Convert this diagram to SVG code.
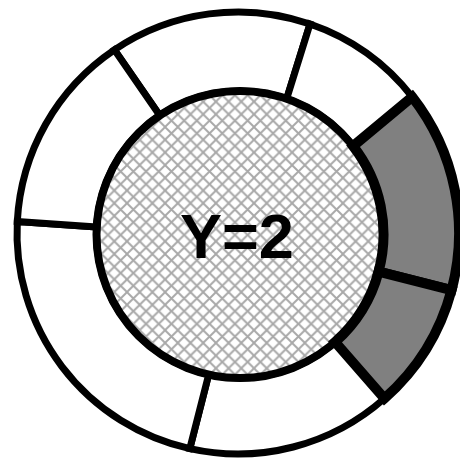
<svg xmlns="http://www.w3.org/2000/svg" width="460" height="461" viewBox="0 0 460 461">
  <defs>
    <pattern id="hatch" patternUnits="userSpaceOnUse" width="12.7" height="12.7">
      <rect width="12.7" height="12.7" fill="#ffffff"/>
      <path d="M-1,-1 L13.7,13.7 M-1,13.7 L13.7,-1" stroke="#a8a8a8" stroke-width="1.9" fill="none"/>
    </pattern>
  </defs>
  <style>
    .seg { fill: #ffffff; stroke: #000000; stroke-width: 7; stroke-linejoin: miter; }
    .seg.on { fill: #808080; stroke-width: 10; }
    .core { fill: url(#hatch); stroke: #000000; stroke-width: 8; }
    .label { font-family: "Liberation Sans", Arial, sans-serif; font-weight: bold; font-size: 63px; fill: #000000; text-anchor: middle; }
  </style>
  <rect width="460" height="461" fill="#ffffff"/>
  <g id="ring">
    <g id="seg-1"><path class="seg" d="M114.4,49.8 A221 221 0 0 1 310.0,24.0 L286.7,98.8 A143.5 143.5 0 0 0 159.8,115.5 Z"/></g>
    <g id="seg-2"><path class="seg" d="M310.0,24.0 A221 221 0 0 1 412.2,96.9 L353.1,146.1 A143.5 143.5 0 0 0 286.7,98.8 Z"/></g>
    <g id="seg-5"><path class="seg" d="M384.4,398.5 A221 221 0 0 1 189.8,448.7 L208.7,374.5 A143.5 143.5 0 0 0 335.1,342.0 Z"/></g>
    <g id="seg-6"><path class="seg" d="M189.8,448.7 A221 221 0 0 1 17.3,221.4 L96.7,227.0 A143.5 143.5 0 0 0 208.7,374.5 Z"/></g>
    <g id="seg-7"><path class="seg" d="M17.3,221.4 A221 221 0 0 1 114.4,49.8 L159.8,115.5 A143.5 143.5 0 0 0 96.7,227.0 Z"/></g>
  </g>
  <g id="center">
    <circle class="core" cx="240" cy="234.5" r="143.5"/>
  </g>
  <g id="highlight">
    <g id="seg-3"><path class="seg on" d="M412.2,96.9 A221 221 0 0 1 451.5,290.2 L378.6,271.6 A143.5 143.5 0 0 0 353.1,146.1 Z"/></g>
    <g id="seg-4"><path class="seg on" d="M451.5,290.2 A221 221 0 0 1 384.4,398.5 L335.1,342.0 A143.5 143.5 0 0 0 378.6,271.6 Z"/></g>
  </g>
  <g id="center-label">
    <text class="label" x="237" y="258">Y=2</text>
  </g>
</svg>
